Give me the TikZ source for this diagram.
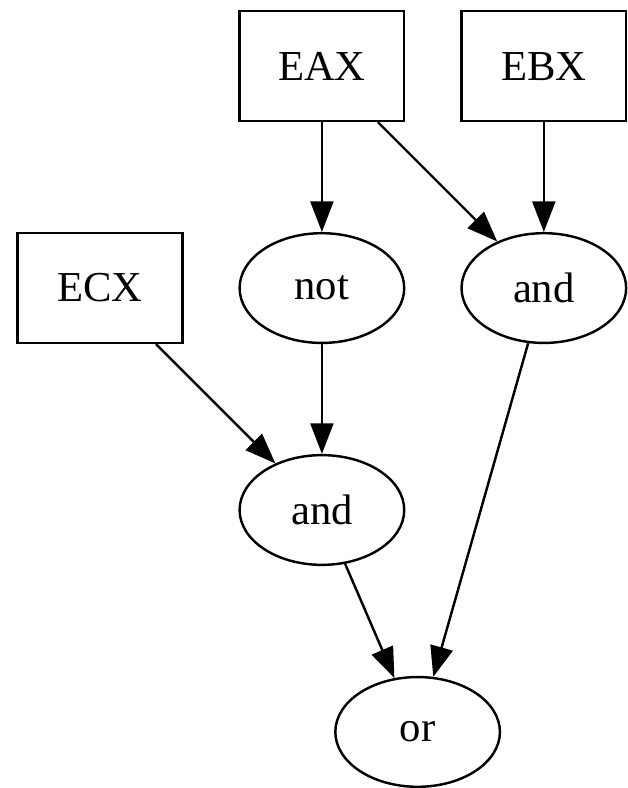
\documentclass[tikz,border=0pt]{standalone}
\usepackage{fontspec}
\setmainfont{Liberation Serif}
\usepackage{tikz}
\usetikzlibrary{arrows.meta,positioning,calc,shapes.geometric}

\begin{document}
\begin{tikzpicture}[
    node distance = 36pt and 18pt,
    % ── Node styles ──
    reg/.style   = {rectangle, draw, line width=0.8pt,
                    minimum width=54pt, minimum height=36pt,
                    inner sep=0pt, font=\fontsize{14}{17}\selectfont},
    op/.style    = {ellipse, draw, line width=0.8pt,
                    minimum width=54pt, minimum height=36pt,
                    inner sep=0pt, font=\fontsize{14}{17}\selectfont},
    arr/.style   = {-{Triangle[length=10pt,width=7.5pt]}, line width=0.8pt},
]

% =====================================================================
%  ROW 1: registers EAX, EBX
% =====================================================================
\node[reg] (eax) {EAX};
\node[reg, right=of eax] (ebx) {EBX};

% =====================================================================
%  ROW 2: ECX, not, and
% =====================================================================
\node[op, below=of eax] (not) {not};
\node[reg, left=of not] (ecx) {ECX};
\node[op, below=of ebx] (andR) {and};

\draw[arr] (eax) -- (not);
\draw[arr] (eax) -- (andR);
\draw[arr] (ebx) -- (andR);

% =====================================================================
%  ROW 3: and
% =====================================================================
\node[op, below=of not] (andM) {and};

\draw[arr] (ecx) -- (andM);
\draw[arr] (not) -- (andM);

% =====================================================================
%  ROW 4: or
% =====================================================================
\node[op, below=of andM, xshift=31.4pt] (or) {or};

\draw[arr] (andM) -- (or);
\draw[arr] (andR) -- (or);

% ── page frame
\coordinate (bbnw) at ($(ecx.west |- eax.north) + (-5.4pt,3.3pt)$);
\coordinate (bbse) at ($(ebx.west |- or.south) + (50.4pt,0pt)$);
\useasboundingbox (bbnw) rectangle (bbse);

\end{tikzpicture}
\end{document}
